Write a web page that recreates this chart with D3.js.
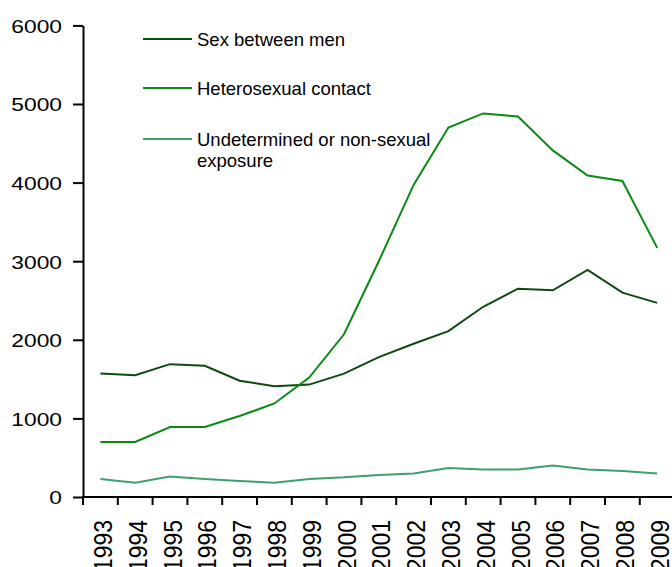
<!DOCTYPE html>
<html>
<head>
<meta charset="utf-8">
<script src="https://cdn.jsdelivr.net/npm/d3@7"></script>
<style>
  body { margin: 0; background: #fff; overflow: hidden; }
  svg { display: block; font-family: "Liberation Sans", Arial, sans-serif; }
</style>
</head>
<body>
<script>
var years = ['1993', '1994', '1995', '1996', '1997', '1998', '1999', '2000', '2001',
  '2002', '2003', '2004', '2005', '2006', '2007', '2008', '2009'];
var sexBetweenMen = [1570, 1550, 1690, 1670, 1480, 1410, 1430, 1570, 1780, 1950, 2110,
  2420, 2650, 2630, 2890, 2600, 2470];
var heterosexual = [700, 700, 890, 890, 1030, 1190, 1520, 2070, 3000, 3970, 4700,
  4880, 4840, 4410, 4090, 4020, 3170];
var undetermined = [230, 180, 260, 230, 205, 180, 230, 250, 280, 300, 370, 350, 350,
  400, 350, 330, 300];
var yTicks = [0, 1000, 2000, 3000, 4000, 5000, 6000];

var series = [
  { name: ['Sex between men'], values: sexBetweenMen, color: '#0d4a12' },
  { name: ['Heterosexual contact'], values: heterosexual, color: '#0a8a12' },
  { name: ['Undetermined or non-sexual', 'exposure'], values: undetermined, color: '#3fa06c' }
];

var width = 672, height = 567;
var svg = d3.select('body').append('svg')
  .attr('width', width)
  .attr('height', height);

var x = d3.scaleBand()
  .domain(years)
  .range([83, 674.6]);

var y = d3.scaleLinear()
  .domain([0, 6000])
  .range([497, 25.4]);

// y axis
var yAxis = svg.append('g')
  .attr('transform', 'translate(83,0)')
  .call(d3.axisLeft(y).tickValues(yTicks).tickFormat(d3.format('d'))
    .tickSize(10).tickPadding(10).tickSizeOuter(0));
yAxis.select('.domain').attr('stroke', '#000').attr('stroke-width', 2);
yAxis.selectAll('.tick line').attr('stroke', '#000').attr('stroke-width', 2);
yAxis.selectAll('.tick text')
  .attr('font-size', 19)
  .attr('fill', '#000')
  .attr('x', 0)
  .attr('dy', '0.36em')
  .attr('transform', 'translate(-21,0) scale(1.2,1)');

// x axis line and ticks between categories
svg.append('line')
  .attr('x1', 82).attr('x2', width)
  .attr('y1', y(0)).attr('y2', y(0))
  .attr('stroke', '#000').attr('stroke-width', 2);

svg.selectAll('.xtick')
  .data(years)
  .enter()
  .append('line')
  .attr('class', 'xtick')
  .attr('x1', function(d) { return x(d); })
  .attr('x2', function(d) { return x(d); })
  .attr('y1', y(0))
  .attr('y2', y(0) + 8)
  .attr('stroke', '#000').attr('stroke-width', 2);

svg.selectAll('.xlabel')
  .data(years)
  .enter()
  .append('text')
  .attr('class', 'xlabel')
  .attr('transform', function(d) {
    return 'translate(' + (x(d) + x.bandwidth() / 2 + 11.5) + ',520) rotate(-90) scale(1,1.1)';
  })
  .attr('text-anchor', 'end')
  .attr('font-size', 23)
  .attr('fill', '#000')
  .text(function(d) { return d; });

// lines
var line = d3.line()
  .x(function(d, i) { return x(years[i]) + x.bandwidth() / 2; })
  .y(function(d) { return y(d); });

svg.selectAll('.series')
  .data(series)
  .enter()
  .append('path')
  .attr('class', 'series')
  .attr('d', function(s) { return line(s.values); })
  .attr('fill', 'none')
  .attr('stroke', function(s) { return s.color; })
  .attr('stroke-width', 2);

// legend
var legendY = [39, 88, 139];
var legend = svg.selectAll('.legend')
  .data(series)
  .enter()
  .append('g')
  .attr('class', 'legend')
  .attr('transform', function(d, i) { return 'translate(143,' + legendY[i] + ')'; });

legend.append('line')
  .attr('x1', 0).attr('x2', 49)
  .attr('stroke', function(s) { return s.color; })
  .attr('stroke-width', 2);

legend.each(function(s) {
  var g = d3.select(this);
  s.name.forEach(function(t, j) {
    g.append('text')
      .attr('x', 54)
      .attr('y', j * 21)
      .attr('dy', '0.36em')
      .attr('font-size', 18.5)
      .attr('fill', '#000')
      .text(t);
  });
});
</script>
</body>
</html>
